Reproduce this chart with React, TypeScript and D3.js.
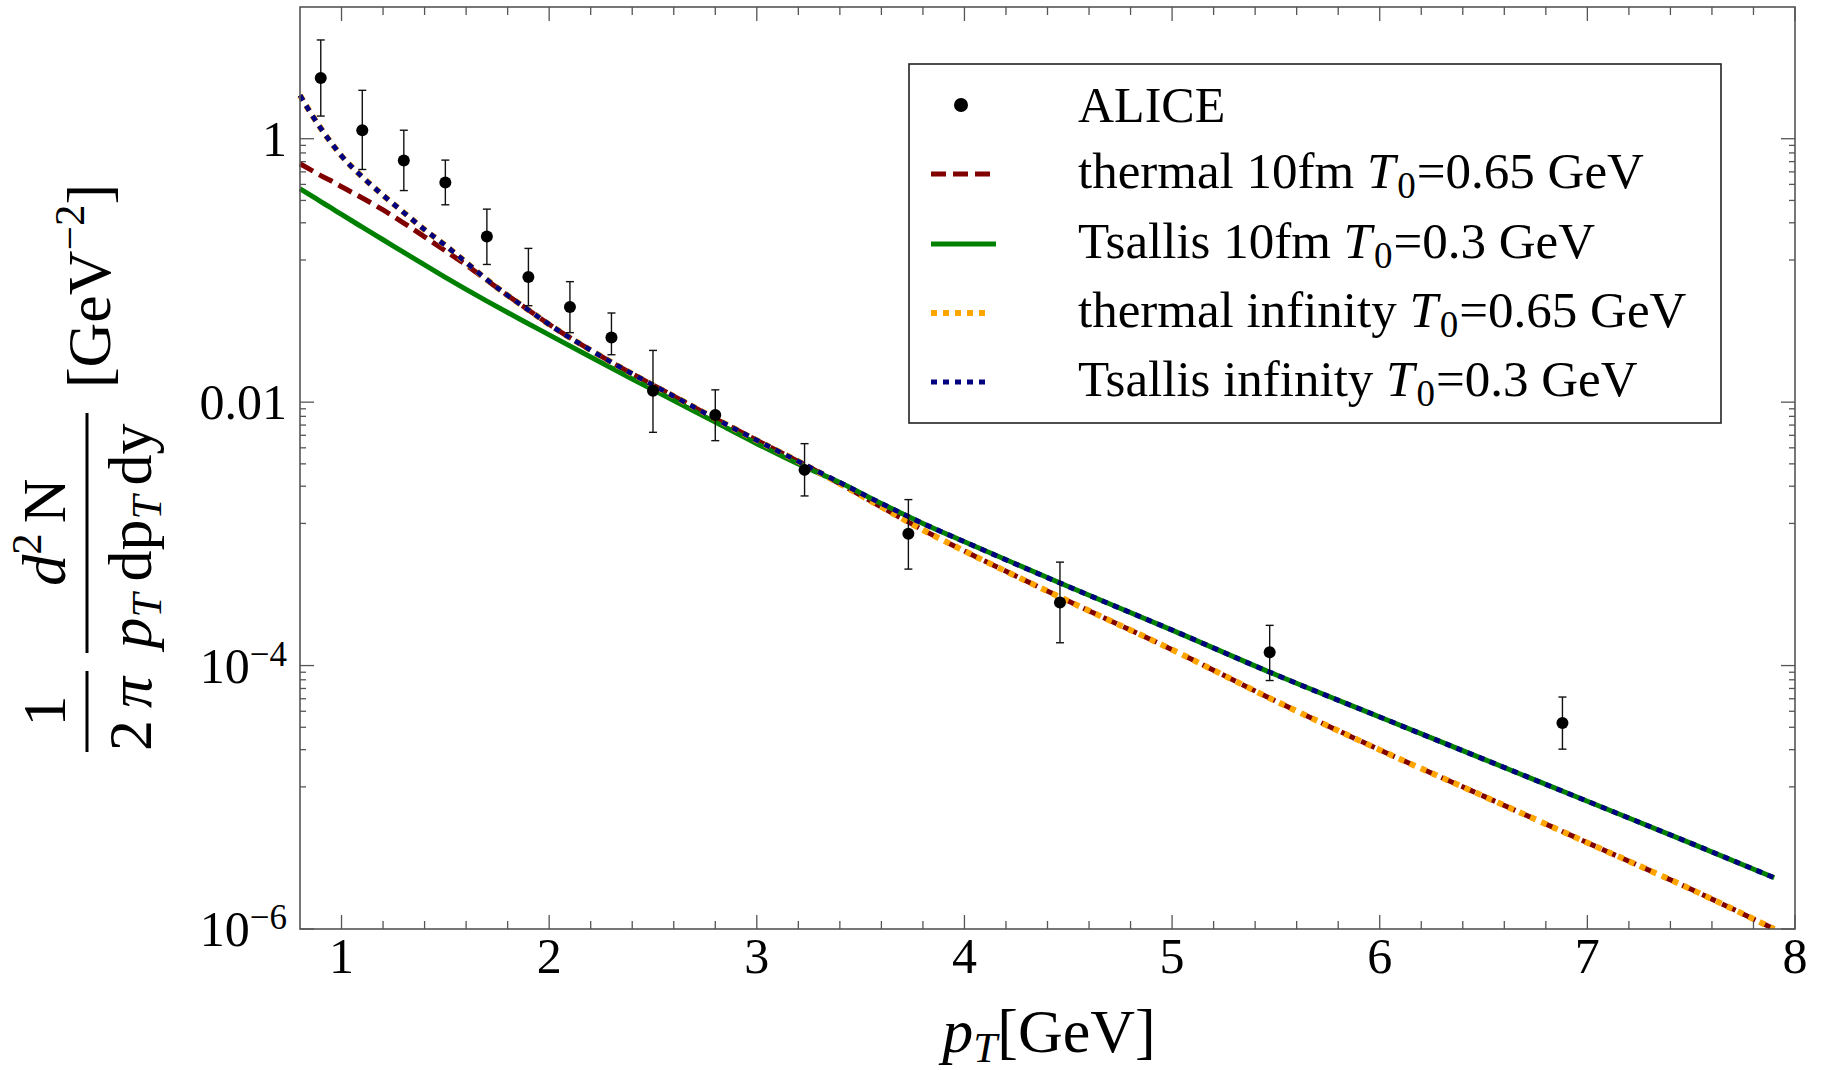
import React from "react";
import * as d3 from "d3";

// pT grid of the model curves [GeV]
const pT = [0.8, 0.85, 0.9, 0.95, 1.0, 1.1, 1.2, 1.3, 1.4, 1.5, 1.6, 1.7, 1.8, 1.9, 2.0, 2.2, 2.4, 2.6, 2.8, 3.0, 3.2, 3.4, 3.6, 3.8, 4.0, 4.5, 5.0, 5.5, 6.0, 6.5, 7.0, 7.5, 7.9];

const thermal10fm = [0.646, 0.582, 0.525, 0.479, 0.432, 0.355, 0.288, 0.229, 0.18, 0.141, 0.11, 0.0841, 0.0646, 0.0501, 0.0389, 0.0248, 0.0164, 0.0111, 0.0075, 0.00513, 0.00355, 0.0024, 0.0016, 0.00107, 7.41e-4, 3.09e-4, 1.32e-4, 5.37e-5, 2.29e-5, 1.02e-5, 4.52e-6, 2.0e-6, 1.0e-6];
const tsallis10fm = [0.417, 0.373, 0.333, 0.298, 0.266, 0.213, 0.171, 0.137, 0.11, 0.0887, 0.0718, 0.0585, 0.0479, 0.0394, 0.0324, 0.022, 0.015, 0.0103, 0.00705, 0.00484, 0.00339, 0.00245, 0.0017, 0.0012, 8.71e-4, 3.98e-4, 1.86e-4, 8.51e-5, 4.07e-5, 1.95e-5, 9.33e-6, 4.47e-6, 2.45e-6];
const thermalInf = [2.14, 1.58, 1.2, 0.933, 0.741, 0.513, 0.372, 0.275, 0.204, 0.155, 0.115, 0.0851, 0.0646, 0.0501, 0.0389, 0.0248, 0.0164, 0.0111, 0.0075, 0.00513, 0.00355, 0.0024, 0.0016, 0.00107, 7.41e-4, 3.09e-4, 1.32e-4, 5.37e-5, 2.29e-5, 1.02e-5, 4.52e-6, 2.0e-6, 1.0e-6];
const tsallisInf = [2.14, 1.58, 1.2, 0.933, 0.741, 0.513, 0.372, 0.275, 0.204, 0.155, 0.115, 0.0851, 0.0646, 0.0501, 0.0389, 0.0248, 0.0164, 0.0111, 0.0075, 0.00513, 0.00355, 0.00245, 0.0017, 0.0012, 8.71e-4, 3.98e-4, 1.86e-4, 8.51e-5, 4.07e-5, 1.95e-5, 9.33e-6, 4.47e-6, 2.45e-6];

// ALICE points with error bars
const alicePt = [0.9, 1.1, 1.3, 1.5, 1.7, 1.9, 2.1, 2.3, 2.5, 2.8, 3.23, 3.73, 4.46, 5.47, 6.88];
const aliceVal = [2.89, 1.16, 0.684, 0.465, 0.181, 0.0893, 0.0528, 0.031, 0.0122, 0.008, 3.06e-3, 1.0e-3, 3.01e-4, 1.26e-4, 3.66e-5];
const aliceHi = [5.62, 2.33, 1.16, 0.688, 0.292, 0.147, 0.0822, 0.0475, 0.0247, 0.0124, 4.84e-3, 1.82e-3, 6.1e-4, 2.02e-4, 5.77e-5];
const aliceLo = [1.486, 0.584, 0.404, 0.315, 0.111, 0.054, 0.0337, 0.0229, 0.0059, 0.0051, 1.94e-3, 5.4e-4, 1.49e-4, 7.7e-5, 2.32e-5];

const xTicks = [1, 2, 3, 4, 5, 6, 7, 8];
const yTicks = [1e-6, 1e-4, 1e-2, 1];
const yTickBase = ["10", "10", "0.01", "1"];
const yTickExp = ["\u22126", "\u22124", "", ""];

const W = 1821, H = 1070;
const left = 300, right = 1795, top = 7, bottom = 929;
const FONT = "'Liberation Serif', 'Times New Roman', serif";
const frameColor = "#555";

const series = [
  { label: "thermal 10fm ", t0: "=0.65 GeV", values: thermal10fm, color: "#800000", width: 5, dash: "15,7" },
  { label: "Tsallis 10fm ", t0: "=0.3 GeV", values: tsallis10fm, color: "#008000", width: 5, dash: null },
  { label: "thermal infinity ", t0: "=0.65 GeV", values: thermalInf, color: "#FFA500", width: 6, dash: "6,6" },
  { label: "Tsallis infinity ", t0: "=0.3 GeV", values: tsallisInf, color: "#000080", width: 5, dash: "6,6" },
];

export default function App() {
  const x = d3.scaleLinear().domain([0.8, 8]).range([left, right]);
  const y = d3.scaleLog().domain([1e-6, 10]).range([bottom, top]);
  const line = d3.line<number>()
    .x((d, i) => x(pT[i]))
    .y((d) => y(d))
    .curve(d3.curveMonotoneX);

  // minor ticks: x every 0.2, y linear subdivisions between labelled decades
  const xMinor = d3.range(0.8, 8.001, 0.2).filter(v => Math.abs(v - Math.round(v)) > 0.01 && v > 0.9);
  const yMinor: number[] = [];
  for (let i = 0; i < yTicks.length; i++) {
    const lo = yTicks[i], hi = lo * 100;
    for (let k = 1; k <= 8; k++) {
      const v = lo + (k * (hi - lo)) / 9;
      if (v < 10) yMinor.push(v);
    }
  }

  const legX = 909, legY = 64, legW = 812, legH = 359;
  const rowY = [105, 174, 244, 313, 382];

  return (
    <svg width={W} height={H} style={{ position: "absolute", left: 0, top: 0, background: "#fff" }} fontFamily={FONT}>
      <defs>
        <clipPath id="plotclip">
          <rect x={left - 3} y={top} width={right - left + 3} height={bottom - top} />
        </clipPath>
      </defs>

      {/* curves */}
      <g clipPath="url(#plotclip)" fill="none">
        {series.map((s, i) => (
          <path key={i} d={line(s.values) || ""} stroke={s.color} strokeWidth={s.width}
            strokeDasharray={s.dash || undefined} />
        ))}
      </g>

      {/* data points */}
      <g>
        {alicePt.map((p, i) => (
          <g key={i} stroke="#111" strokeWidth={1.4}>
            <line x1={x(p)} x2={x(p)} y1={y(aliceHi[i])} y2={y(aliceLo[i])} />
            <line x1={x(p) - 4} x2={x(p) + 4} y1={y(aliceHi[i])} y2={y(aliceHi[i])} />
            <line x1={x(p) - 4} x2={x(p) + 4} y1={y(aliceLo[i])} y2={y(aliceLo[i])} />
            <circle cx={x(p)} cy={y(aliceVal[i])} r={6} fill="#000" stroke="none" />
          </g>
        ))}
      </g>

      {/* frame and ticks */}
      <rect x={left} y={top} width={right - left} height={bottom - top} fill="none" stroke={frameColor} strokeWidth={1.6} />
      <g stroke={frameColor} strokeWidth={1.3}>
        {xTicks.map(t => (
          <g key={"xt" + t}>
            <line x1={x(t)} x2={x(t)} y1={bottom} y2={bottom - 14} />
            <line x1={x(t)} x2={x(t)} y1={top} y2={top + 14} />
          </g>
        ))}
        {xMinor.map((t, i) => (
          <g key={"xm" + i}>
            <line x1={x(t)} x2={x(t)} y1={bottom} y2={bottom - 8} />
            <line x1={x(t)} x2={x(t)} y1={top} y2={top + 8} />
          </g>
        ))}
        {yTicks.map((t, i) => (
          <g key={"yt" + i}>
            <line x1={left} x2={left + 14} y1={y(t)} y2={y(t)} />
            <line x1={right} x2={right - 14} y1={y(t)} y2={y(t)} />
          </g>
        ))}
        {yMinor.map((t, i) => (
          <g key={"ym" + i}>
            <line x1={left} x2={left + 6} y1={y(t)} y2={y(t)} />
            <line x1={right} x2={right - 6} y1={y(t)} y2={y(t)} />
          </g>
        ))}
      </g>

      {/* tick labels */}
      <g fontSize={50} fill="#000">
        {xTicks.map(t => (
          <text key={"xl" + t} x={x(t)} y={973} textAnchor="middle">{t}</text>
        ))}
        {yTicks.map((t, i) => (
          <text key={"yl" + i} x={287} y={y(t) + 17} textAnchor="end">
            {yTickBase[i]}
            {yTickExp[i] && <tspan fontSize={35} dy={-17}>{yTickExp[i]}</tspan>}
          </text>
        ))}
      </g>

      {/* x axis title */}
      <text x={1049} y={1052} fontSize={62} textAnchor="middle">
        <tspan fontStyle="italic">p</tspan>
        <tspan fontSize={43} fontStyle="italic" dy={10}>T</tspan>
        <tspan dy={-10}>[GeV]</tspan>
      </text>

      {/* y axis title */}
      <g transform="translate(87,470) rotate(-90)" fontSize={62}>
        <text x={-241} y={-22} textAnchor="middle">1</text>
        <line x1={-282} x2={-201} y1={0} y2={0} stroke="#000" strokeWidth={3} />
        <text x={-244} y={64} textAnchor="middle">
          2<tspan fontStyle="italic" dx={12}>π</tspan>
        </text>
        <text x={-62} y={-22} textAnchor="middle">
          <tspan fontStyle="italic">d</tspan>
          <tspan fontSize={43} dy={-24}>2</tspan>
          <tspan dy={24} dx={10}>N</tspan>
        </text>
        <line x1={-183} x2={57} y1={0} y2={0} stroke="#000" strokeWidth={3} />
        <text x={-66} y={64} textAnchor="middle">
          <tspan fontStyle="italic">p</tspan>
          <tspan fontSize={43} fontStyle="italic" dy={10}>T</tspan>
          <tspan dy={-10} dx={12}>dp</tspan>
          <tspan fontSize={43} fontStyle="italic" dy={10}>T</tspan>
          <tspan dy={-10} dx={10}>dy</tspan>
        </text>
        <text x={184} y={23} textAnchor="middle">
          [GeV<tspan fontSize={43} dy={-26}>{"\u22122"}</tspan><tspan dy={26}>]</tspan>
        </text>
      </g>

      {/* legend */}
      <g>
        <rect x={legX} y={legY} width={legW} height={legH} fill="#fff" stroke="#222" strokeWidth={1.6} />
        <circle cx={961} cy={rowY[0]} r={7} fill="#000" />
        <text x={1078} y={rowY[0] + 17} fontSize={50}>ALICE</text>
        {series.map((s, i) => (
          <g key={"lg" + i}>
            <line x1={931} x2={s.dash ? 991 : 996} y1={rowY[i + 1]} y2={rowY[i + 1]} stroke={s.color}
              strokeWidth={s.width} strokeDasharray={s.dash || undefined} />
            <text x={1078} y={rowY[i + 1] + 14} fontSize={51}>
              {s.label}
              <tspan fontStyle="italic">T</tspan>
              <tspan fontSize={37} dy={10} dx={2}>0</tspan>
              <tspan dy={-10} dx={1}>{s.t0}</tspan>
            </text>
          </g>
        ))}
      </g>
    </svg>
  );
}
